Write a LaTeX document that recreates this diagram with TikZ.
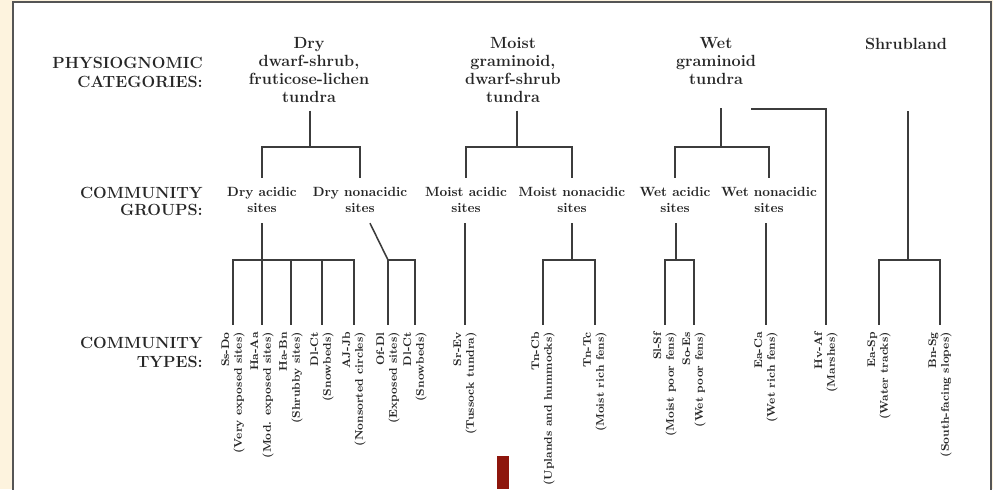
\documentclass[tikz,border=0pt]{standalone}
\usepackage{tikz}
\usetikzlibrary{positioning}

\definecolor{pagebeige}{RGB}{253,243,222}
\definecolor{framegray}{RGB}{85,85,85}
\definecolor{inkgray}{RGB}{60,60,60}
\definecolor{markred}{RGB}{142,22,12}

\begin{document}
\begin{tikzpicture}[
    x=0.025cm, y=-0.025cm,
    heading/.style={font=\bfseries\fontsize{11.5}{#1}\selectfont, align=right, anchor=east, inner sep=0pt, text=black!85},
    heading/.default=13pt,
    category/.style={font=\bfseries\fontsize{11.5}{12.8}\selectfont, align=center, anchor=north, inner sep=0pt, text=black!85},
    group/.style={font=\bfseries\fontsize{9.5}{11.6}\selectfont, align=center, anchor=north, inner sep=0pt, text=black!85},
    ctype/.style={font=\bfseries\fontsize{7.9}{9.2}\selectfont, align=right, rotate=90, anchor=east, inner sep=0pt, text=black!85},
    branch/.style={draw=inkgray, line width=1.1pt},
    leg/.style={branch, shorten >=5pt}
  ]

  % page and frame
  \useasboundingbox (0,0) rectangle (993,489);
  \fill[pagebeige] (0,0) rectangle (993,489);
  \filldraw[fill=white, draw=framegray, line width=1pt] (13,2) rectangle (991,500);

  % row headings
  \node[heading=13.5pt] (hphys) at (203,72) {PHYSIOGNOMIC\\CATEGORIES:};
  \node[heading=11.9pt] (hgroups) at (203,201.5) {COMMUNITY\\GROUPS:};
  \node[heading] (htypes) at (203,352.5) {COMMUNITY\\TYPES:};

  % physiognomic categories
  \node[category] (dry)   at (309,37.5) {Dry\\dwarf-shrub,\\fruticose-lichen\\tundra};
  \node[category] (moist) at (513,37.5) {Moist\\graminoid,\\dwarf-shrub\\tundra};
  \node[category] (wet)   at (716,37.5) {Wet\\graminoid\\tundra};
  \node[category] (shrub) at (906,37.5) {Shrubland};

  % community groups
  \node[group] (dryacid)   at (262,187) {Dry acidic\\sites};
  \node[group] (drynon)    at (360,187) {Dry nonacidic\\sites};
  \node[group] (moistacid) at (466,187) {Moist acidic\\sites};
  \node[group] (moistnon)  at (572,187) {Moist nonacidic\\sites};
  \node[group] (wetacid)   at (675,187) {Wet acidic\\sites};
  \node[group] (wetnon)    at (769,187) {Wet nonacidic\\sites};

  % community types
  \node[ctype] (ssdo)  at (233,332) {Ss-Do\\(Very exposed sites)};
  \node[ctype] (haaa)  at (262,332) {Ha-Aa\\(Mod. exposed sites)};
  \node[ctype] (habn)  at (291,332) {Ha-Bn\\(Shrubby sites)};
  \node[ctype] (dlct)  at (322,332) {Dl-Ct\\(Snowbeds)};
  \node[ctype] (ajjb)  at (354,332) {AJ-Jb\\(Nonsorted circles)};
  \node[ctype] (ofdl)  at (388,332) {Of-Dl\\(Exposed sites)};
  \node[ctype] (dlct2) at (415,332) {Dl-Ct\\(Snowbeds)};
  \node[ctype] (srev)  at (465,332) {Sr-Ev\\(Tussock tundra)};
  \node[ctype] (tncb)  at (543,332) {Tn-Cb\\(Uplands and hummocks)};
  \node[ctype] (tntc)  at (595,332) {Tn-Tc\\(Moist rich fens)};
  \node[ctype] (slsf)  at (665,332) {Sl-Sf\\(Moist poor fens)};
  \node[ctype] (soes)  at (694,332) {So-Es\\(Wet poor fens)};
  \node[ctype] (eaca)  at (766,332) {Ea-Ca\\(Wet rich fens)};
  \node[ctype] (hvaf)  at (826,332) {Hv-Af\\(Marshes)};
  \node[ctype] (easp)  at (879,332) {Ea-Sp\\(Water tracks)};
  \node[ctype] (bnsg)  at (940,332) {Bn-Sg\\(South-facing slopes)};

  % branch points
  \coordinate (dryfork)   at (310,147);
  \coordinate (moistfork) at (517,147);
  \coordinate (wetfork)   at (721,147);
  \coordinate (dryacidfork)   at (262,260);
  \coordinate (drynonfork)    at (388,260);
  \coordinate (moistnonfork)  at (572,260);
  \coordinate (wetacidfork)   at (676,260);
  \coordinate (shrubfork)     at (908,260);
  \coordinate (marshlink)     at (751,109);

  % categories down to groups
  \draw[branch, shorten <=5.3pt] (dry.south -| dryfork) -- (dryfork);
  \draw[leg, shorten >=6.4pt] (dryfork) -| (dryacid.north);
  \draw[leg, shorten >=6.4pt] (dryfork) -| (drynon.north);
  \draw[branch, shorten <=5.3pt] (moist.south -| moistfork) -- (moistfork);
  \draw[leg, shorten >=6.4pt] (moistfork) -| (moistacid.north);
  \draw[leg, shorten >=6.4pt] (moistfork) -| (moistnon.north);
  \draw[branch, shorten <=16.4pt] (wet.south -| wetfork) -- (wetfork);
  \draw[leg, shorten >=6.4pt] (wetfork) -| (wetacid.north);
  \draw[leg, shorten >=6.4pt] (wetfork) -| (wetnon.north);

  % dry groups down to types
  \draw[branch, shorten <=7pt] (dryacid.south) -- (dryacidfork);
  \draw[leg] (dryacidfork) -| (ssdo.east);
  \draw[leg] (dryacidfork) -- (haaa.east);
  \draw[leg] (dryacidfork) -| (habn.east);
  \draw[leg] (dryacidfork) -| (dlct.east);
  \draw[leg] (dryacidfork) -| (ajjb.east);
  \draw[branch] ([shift={(10,10)}]drynon.south) -- (drynonfork);
  \draw[leg] (drynonfork) -- (ofdl.east);
  \draw[leg] (drynonfork) -| (dlct2.east);

  % moist groups
  \draw[leg, shorten <=7pt] (moistacid.south -| srev.east) -- (srev.east);
  \draw[branch, shorten <=7pt] (moistnon.south) -- (moistnonfork);
  \draw[leg] (moistnonfork) -| (tncb.east);
  \draw[leg] (moistnonfork) -| (tntc.east);

  % wet groups
  \draw[branch, shorten <=7pt] (wetacid.south -| wetacidfork) -- (wetacidfork);
  \draw[leg] (wetacidfork) -| (slsf.east);
  \draw[leg] (wetacidfork) -| (soes.east);
  \draw[leg, shorten <=7pt] (wetnon.south -| eaca.east) -- (eaca.east);
  \draw[leg] (marshlink) -| (hvaf.east);

  % shrubland
  \draw[branch, shorten <=44pt] (shrub.south -| shrubfork) -- (shrubfork);
  \draw[leg] (shrubfork) -| (easp.east);
  \draw[leg] (shrubfork) -| (bnsg.east);

  % marker
  \fill[markred] (497,456) rectangle (509,489);

\end{tikzpicture}
\end{document}
